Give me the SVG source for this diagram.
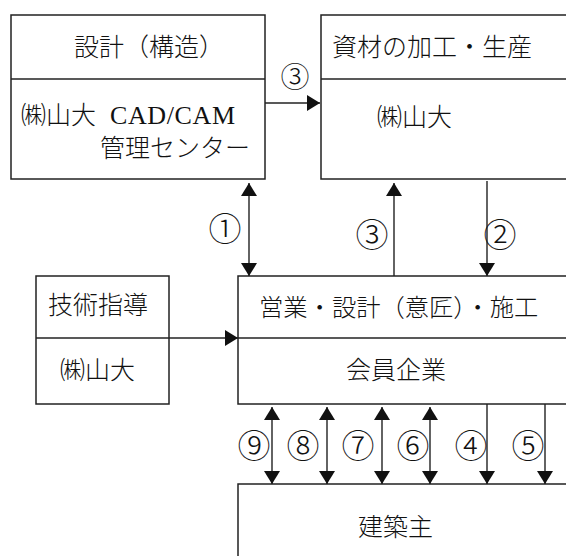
<svg xmlns="http://www.w3.org/2000/svg" width="566" height="556" viewBox="0 0 566 556">
<style>
.box{fill:#fff;stroke:#222;stroke-width:1.5}
.div{stroke:#222;stroke-width:1.5}
.t{font-family:"Noto Sans CJK JP","Noto Sans CJK SC",sans-serif;font-size:25px;font-weight:300;fill:#111}
.n{font-family:"Noto Sans CJK JP","Noto Sans CJK SC",serif;font-size:33px;font-weight:300;fill:#111;text-anchor:middle}
.lat{font-family:"Liberation Serif",serif;font-size:26px;font-weight:400}
.c{stroke:#222;stroke-width:1.4;fill:none}
.one{marker-end:url(#ah)}
.two{marker-start:url(#ah);marker-end:url(#ah)}
</style>
<defs>
<marker id="ah" markerUnits="userSpaceOnUse" markerWidth="13" markerHeight="16" viewBox="0 0 13 16" refX="13" refY="8" orient="auto-start-reverse">
<path d="M0,0 L13,8 L0,16 Z" fill="#111"/>
</marker>
</defs>
<rect width="566" height="556" fill="#fff"/>

<g id="node-structural-design">
<rect class="box" x="11" y="15" width="254" height="164"/>
<line class="div" x1="11" y1="79" x2="265" y2="79"/>
<text class="t" x="74" y="56">設計（構造）</text>
<text class="t" x="21" y="124">㈱山大<tspan class="lat" x="110" textLength="125">CAD/CAM</tspan></text>
<text class="t" x="100" y="157">管理センター</text>
</g>

<g id="node-materials">
<rect class="box" x="321" y="15" width="260" height="164"/>
<line class="div" x1="321" y1="79" x2="581" y2="79"/>
<text class="t" x="332" y="56">資材の加工・生産</text>
<text class="t" x="377" y="126">㈱山大</text>
</g>

<g id="node-technical">
<rect class="box" x="36" y="276" width="133" height="128"/>
<line class="div" x1="36" y1="338" x2="169" y2="338"/>
<text class="t" x="48" y="314">技術指導</text>
<text class="t" x="60" y="379">㈱山大</text>
</g>

<g id="node-members">
<rect class="box" x="238" y="276" width="343" height="128"/>
<line class="div" x1="238" y1="338" x2="581" y2="338"/>
<text class="t" x="259" y="316" style="font-size:24.3px">営業・設計（意匠）・施工</text>
<text class="t" x="346" y="379">会員企業</text>
</g>

<g id="node-client">
<rect class="box" x="238" y="484" width="343" height="90"/>
<text class="t" x="358" y="536">建築主</text>
</g>

<g id="connectors">
<line class="c one" x1="265" y1="103" x2="320" y2="103"/>
<line class="c two" x1="249" y1="183" x2="249" y2="276"/>
<line class="c one" x1="394" y1="276" x2="394" y2="183"/>
<line class="c one" x1="487" y1="181" x2="487" y2="276"/>
<line class="c one" x1="169" y1="338" x2="238" y2="338"/>
<line class="c two" x1="272" y1="407" x2="272" y2="484"/>
<line class="c two" x1="327" y1="407" x2="327" y2="484"/>
<line class="c two" x1="382" y1="407" x2="382" y2="484"/>
<line class="c two" x1="430" y1="407" x2="430" y2="484"/>
<line class="c one" x1="487" y1="404" x2="487" y2="484"/>
<line class="c one" x1="545" y1="404" x2="545" y2="484"/>
<text class="n" x="295" y="88" style="font-size:29px">③</text>
<text class="n" x="225" y="241">①</text>
<text class="n" x="372" y="247">③</text>
<text class="n" x="500" y="247">②</text>
<text class="n" x="254" y="458">⑨</text>
<text class="n" x="303" y="458">⑧</text>
<text class="n" x="358" y="458">⑦</text>
<text class="n" x="413" y="458">⑥</text>
<text class="n" x="471" y="458">④</text>
<text class="n" x="528" y="458">⑤</text>
</g>
</svg>
